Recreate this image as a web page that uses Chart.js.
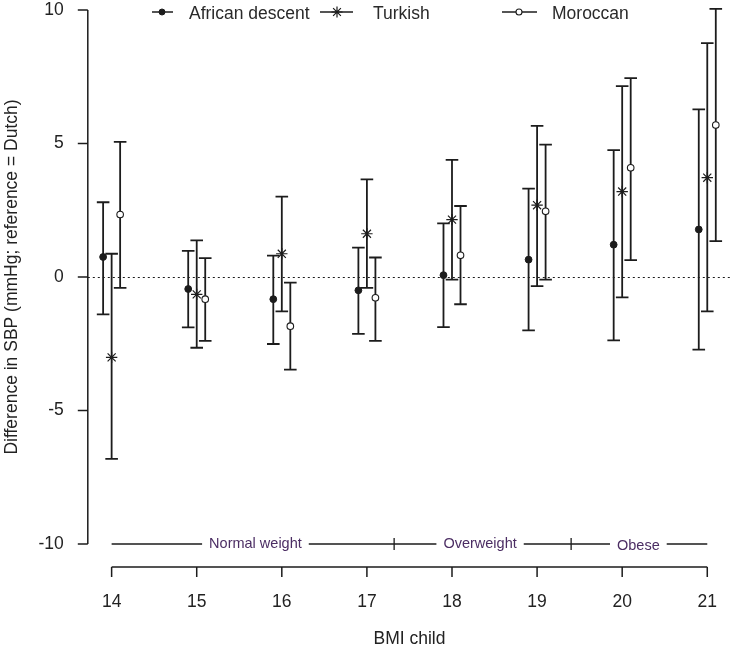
<!DOCTYPE html>
<html><head><meta charset="utf-8">
<script src="https://cdn.jsdelivr.net/npm/chart.js@4/dist/chart.umd.min.js"></script>
<style>html,body{margin:0;padding:0;background:#fff}#wrap{width:738px;height:653px;position:relative}</style>
</head><body><div id="wrap"><canvas id="c"></canvas></div>
<script>
// ---- data ----
const bmi = [14, 15, 16, 17, 18, 19, 20, 21];
const seriesNames = ['African descent', 'Turkish', 'Moroccan'];
const african   = [0.75, -0.45, -0.83, -0.50, 0.07, 0.65, 1.21, 1.78];
const africanLo = [-1.40, -1.89, -2.51, -2.13, -1.88, -2.00, -2.37, -2.72];
const africanHi = [2.80, 0.98, 0.80, 1.10, 2.01, 3.31, 4.75, 6.28];
const turkish   = [-3.01, -0.65, 0.87, 1.62, 2.15, 2.69, 3.20, 3.72];
const turkishLo = [-6.81, -2.65, -1.29, -0.41, -0.10, -0.34, -0.76, -1.29];
const turkishHi = [0.87, 1.37, 3.01, 3.66, 4.39, 5.66, 7.15, 8.76];
const moroccan   = [2.34, -0.83, -1.84, -0.78, 0.81, 2.46, 4.09, 5.69];
const moroccanLo = [-0.41, -2.39, -3.47, -2.39, -1.02, -0.10, 0.63, 1.34];
const moroccanHi = [5.06, 0.71, -0.21, 0.73, 2.66, 4.96, 7.45, 10.04];
const xTicks = [14, 15, 16, 17, 18, 19, 20, 21];
const yTicks = [-10, -5, 0, 5, 10];
const bandLabels  = ['Normal weight', 'Overweight', 'Obese'];
const bandCenters = [15.69, 18.33, 20.19];
const bandBreaks  = [17.32, 19.40];
const bandRange   = [14, 21];
const bandLevel   = -10;

// ---- styles ----
const FONT = '"Liberation Sans", Arial, sans-serif';
const FS = 17.5;
const INK = '#1c1c1c';
const offsets = [-0.1, 0, 0.1];
const lows = [africanLo, turkishLo, moroccanLo];
const highs = [africanHi, turkishHi, moroccanHi];
const values = [african, turkish, moroccan];
const styles = [
  {pointStyle: 'circle', radius: 3.4, fill: INK, border: INK, bw: 1},
  {pointStyle: 'star', radius: 5.7, fill: INK, border: INK, bw: 1.2},
  {pointStyle: 'circle', radius: 3.3, fill: '#ffffff', border: INK, bw: 1.1}
];

function drawMarker(ctx, st, x, y) {
  ctx.save();
  ctx.lineWidth = st.bw; ctx.strokeStyle = st.border; ctx.fillStyle = st.fill;
  if (st.pointStyle === 'star') {
    const r = st.radius, d = r * Math.SQRT1_2;
    ctx.beginPath();
    ctx.moveTo(x - r, y); ctx.lineTo(x + r, y);
    ctx.moveTo(x, y - r); ctx.lineTo(x, y + r);
    ctx.moveTo(x - d, y - d); ctx.lineTo(x + d, y + d);
    ctx.moveTo(x - d, y + d); ctx.lineTo(x + d, y - d);
    ctx.stroke();
  } else {
    ctx.beginPath(); ctx.arc(x, y, st.radius, 0, Math.PI * 2);
    ctx.fill(); ctx.stroke();
  }
  ctx.restore();
}

function noPad(s) { s.paddingTop = 0; s.paddingBottom = 0; s.paddingLeft = 0; s.paddingRight = 0; }

const rPlot = {
  id: 'rPlot',
  beforeDatasetsDraw(chart) {
    const ctx = chart.ctx, xs = chart.scales.x, ys = chart.scales.y, ca = chart.chartArea;
    ctx.save();
    // reference line at 0
    ctx.strokeStyle = INK; ctx.lineWidth = 1.2; ctx.setLineDash([2, 3]);
    const y0 = Math.round(ys.getPixelForValue(0)) + 0.5;
    ctx.beginPath(); ctx.moveTo(ca.left, y0); ctx.lineTo(ca.right, y0); ctx.stroke();
    ctx.setLineDash([]);
    // error bars
    ctx.lineWidth = 1.8; ctx.strokeStyle = INK;
    for (let i = 0; i < values.length; i++) {
      const meta = chart.getDatasetMeta(i);
      meta.data.forEach((pt, j) => {
        const x = pt.x, yl = ys.getPixelForValue(lows[i][j]), yh = ys.getPixelForValue(highs[i][j]);
        ctx.beginPath();
        ctx.moveTo(x, yl); ctx.lineTo(x, yh);
        ctx.moveTo(x - 6.3, yl); ctx.lineTo(x + 6.3, yl);
        ctx.moveTo(x - 6.3, yh); ctx.lineTo(x + 6.3, yh);
        ctx.stroke();
      });
    }
    ctx.restore();
  },
  afterDraw(chart) {
    const ctx = chart.ctx, xs = chart.scales.x, ys = chart.scales.y, ca = chart.chartArea;
    ctx.save();
    ctx.strokeStyle = INK; ctx.lineWidth = 1.5;
    // y axis
    const ax = ca.left;
    ctx.beginPath();
    ctx.moveTo(ax, ys.getPixelForValue(yTicks[0])); ctx.lineTo(ax, ys.getPixelForValue(yTicks[yTicks.length - 1]));
    yTicks.forEach(v => { const p = ys.getPixelForValue(v); ctx.moveTo(ax, p); ctx.lineTo(ax - 10, p); });
    ctx.stroke();
    // x axis
    const ay = ca.bottom + 23;
    ctx.beginPath();
    ctx.moveTo(xs.getPixelForValue(xTicks[0]), ay); ctx.lineTo(xs.getPixelForValue(xTicks[xTicks.length - 1]), ay);
    xTicks.forEach(v => { const p = xs.getPixelForValue(v); ctx.moveTo(p, ay); ctx.lineTo(p, ay + 10); });
    ctx.stroke();
    // BMI category band
    const by = ys.getPixelForValue(bandLevel);
    ctx.font = '14.5px ' + FONT; ctx.textBaseline = 'middle'; ctx.textAlign = 'center';
    const gaps = bandLabels.map((t, k) => {
      const c = xs.getPixelForValue(bandCenters[k]); const w = ctx.measureText(t).width / 2 + 7;
      return [c - w, c + w];
    });
    ctx.lineWidth = 1.3;
    let start = xs.getPixelForValue(bandRange[0]);
    ctx.beginPath();
    gaps.forEach(g => { ctx.moveTo(start, by); ctx.lineTo(g[0], by); start = g[1]; });
    ctx.moveTo(start, by); ctx.lineTo(xs.getPixelForValue(bandRange[1]), by);
    bandBreaks.forEach(b => { const p = xs.getPixelForValue(b); ctx.moveTo(p, by - 6); ctx.lineTo(p, by + 6); });
    ctx.stroke();
    ctx.fillStyle = '#4b2d63';
    bandLabels.forEach((t, k) => ctx.fillText(t, xs.getPixelForValue(bandCenters[k]), by + (k === 2 ? 2 : 0)));
    // legend
    const legendItems = [
      {line: [152, 173], mark: 162, text: 189},
      {line: [320, 353], mark: 337, text: 373},
      {line: [502, 537], mark: 519, text: 552}
    ];
    const ly = 12;
    ctx.font = FS + 'px ' + FONT; ctx.textAlign = 'left'; ctx.textBaseline = 'alphabetic';
    legendItems.forEach((it, k) => {
      ctx.strokeStyle = INK; ctx.lineWidth = 1.5;
      ctx.beginPath(); ctx.moveTo(it.line[0], ly); ctx.lineTo(it.line[1], ly); ctx.stroke();
      drawMarker(ctx, Object.assign({}, styles[k], {radius: styles[k].pointStyle === 'star' ? 5.5 : 3}), it.mark, ly);
      ctx.fillStyle = '#2a2a2a';
      ctx.fillText(seriesNames[k], it.text, 18.5);
    });
    ctx.restore();
  }
};

const datasets = values.map((vals, i) => ({
  label: seriesNames[i],
  data: bmi.map((b, j) => ({x: b + offsets[i], y: vals[j]})),
  pointStyle: styles[i].pointStyle,
  pointRadius: styles[i].radius,
  pointBackgroundColor: styles[i].fill,
  pointBorderColor: styles[i].border,
  pointBorderWidth: styles[i].bw,
  showLine: false,
  clip: false
}));

new Chart(document.getElementById('c'), {
  type: 'scatter',
  data: {datasets},
  options: {
    responsive: true, maintainAspectRatio: false, animation: false, devicePixelRatio: 1,
    layout: {padding: {top: 10, left: 0, right: 4.8, bottom: 0}},
    plugins: {legend: {display: false}, tooltip: {enabled: false}},
    scales: {
      x: {
        type: 'linear', min: 13.72, max: 21.28,
        afterBuildTicks: s => { s.ticks = xTicks.map(v => ({value: v})); },
        afterFit: s => { s.height = 109; noPad(s); },
        grid: {display: false, drawTicks: false}, border: {display: false},
        ticks: {padding: 48, color: '#222', font: {family: FONT, size: FS}, callback: v => String(v)},
        title: {display: true, text: 'BMI child', color: '#222', font: {family: FONT, size: FS}, padding: {top: 0, bottom: 3.5}}
      },
      y: {
        type: 'linear', min: -10, max: 10,
        afterBuildTicks: s => { s.ticks = yTicks.map(v => ({value: v})); },
        afterFit: s => { s.width = 87.8; noPad(s); },
        grid: {display: false, drawTicks: false}, border: {display: false},
        ticks: {padding: 24, color: '#222', font: {family: FONT, size: FS}, callback: v => String(v)},
        title: {display: true, text: 'Difference in SBP (mmHg; reference = Dutch)', color: '#222', font: {family: FONT, size: FS}, padding: {top: 2, bottom: 0}}
      }
    }
  },
  plugins: [rPlot]
});
</script>
</body></html>
